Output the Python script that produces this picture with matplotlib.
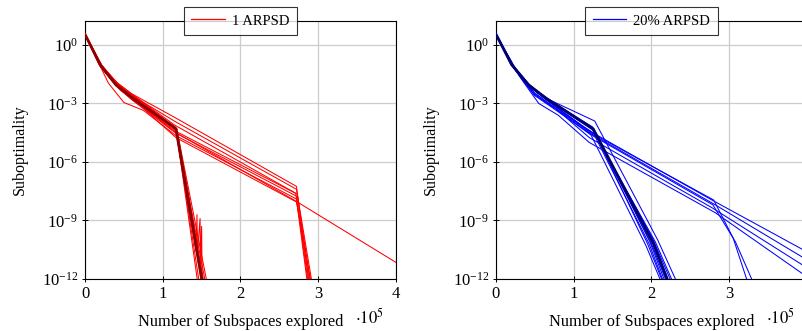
import numpy as np
import matplotlib.pyplot as plt
from matplotlib.lines import Line2D
from matplotlib.ticker import FixedLocator, LogFormatterMathtext

plt.rcParams['font.family'] = ['Liberation Serif', 'DejaVu Serif']
plt.rcParams['mathtext.fontset'] = 'stix'

# x in units of 1e5 subspaces, y given as log10(suboptimality)
# ---- left panel: 1 ARPSD ----
red_x = [
    [0, 0.2, 0.4, 0.6, 1.17, 1.47],
    [0, 0.2, 0.45, 0.65, 1.16, 1.50],
    [0, 0.25, 0.5, 0.7, 1.18, 1.53],
    [0, 0.2, 0.4, 0.62, 1.17, 1.45],
    [0, 0.22, 0.48, 0.7, 1.17, 1.55],
    [0, 0.2, 0.42, 0.6, 1.18, 1.57],
    [0, 0.18, 0.4, 0.63, 1.17, 1.43, 1.44, 1.445, 1.48, 1.485, 1.50, 1.505, 1.52],
    [0, 0.2, 0.4, 0.6, 1.17, 2.72, 2.88],
    [0, 0.22, 0.45, 0.65, 1.17, 2.72, 2.90],
    [0, 0.25, 0.5, 0.7, 1.15, 2.71, 2.86],
    [0, 0.2, 0.43, 0.62, 1.18, 2.73, 2.92],
    [0, 0.3, 0.5, 0.75, 1.17, 2.72, 2.89],
    [0, 0.18, 0.4, 0.6, 1.16, 2.72, 2.87],
    [0, 0.22, 0.45, 0.68, 1.17, 2.72, 2.91],
    [0, 0.2, 0.42, 0.6, 1.17, 2.71, 4.0],
]
red_logy = [
    [0.55, -1.0, -2.0, -2.7, -4.3, -12.2],
    [0.55, -1.1, -2.1, -2.8, -4.2, -12.2],
    [0.55, -1.3, -2.3, -2.9, -4.3, -12.2],
    [0.55, -1.0, -2.0, -2.6, -4.25, -12.2],
    [0.55, -1.15, -2.2, -2.9, -4.35, -12.2],
    [0.55, -1.0, -2.0, -2.7, -4.3, -12.2],
    [0.55, -0.9, -1.9, -2.6, -4.3, -10.6, -8.7, -10.7, -8.9, -11.2, -9.3, -11.6, -12.2],
    [0.55, -0.95, -1.9, -2.5, -3.75, -7.25, -12.2],
    [0.55, -1.1, -2.1, -2.7, -3.95, -7.4, -12.2],
    [0.55, -1.3, -2.3, -2.8, -4.1, -7.6, -12.2],
    [0.55, -1.1, -2.2, -2.85, -4.45, -7.65, -12.2],
    [0.55, -1.95, -2.95, -3.35, -4.65, -7.9, -12.2],
    [0.55, -1.0, -2.1, -2.8, -4.5, -7.75, -12.2],
    [0.55, -1.2, -2.3, -3.0, -4.75, -8.05, -12.2],
    [0.55, -1.05, -2.05, -2.7, -4.5, -8.0, -11.15],
]
red_dark_x = [0, 0.2, 0.4, 0.62, 1.17, 1.51]
red_dark_logy = [0.55, -1.05, -2.05, -2.75, -4.3, -12.2]

# ---- right panel: 20% ARPSD ----
blue_x = [
    [0, 0.2, 0.4, 0.65, 1.25, 1.95, 2.15],
    [0, 0.2, 0.42, 0.65, 1.24, 1.98, 2.18],
    [0, 0.22, 0.45, 0.7, 1.26, 2.0, 2.2],
    [0, 0.2, 0.4, 0.62, 1.25, 2.02, 2.23],
    [0, 0.25, 0.5, 0.72, 1.22, 1.93, 2.13],
    [0, 0.2, 0.4, 0.6, 1.27, 2.08, 2.33],
    [0, 0.2, 0.43, 0.66, 1.23, 2.05, 2.28],
    [0, 0.25, 0.48, 0.7, 1.25, 1.97, 2.16],
    [0, 0.2, 0.45, 0.68, 1.24, 2.04, 2.26],
    [0, 0.2, 0.42, 0.65, 1.2, 2.8, 3.95],
    [0, 0.22, 0.45, 0.68, 1.22, 2.8, 3.95],
    [0, 0.25, 0.5, 0.75, 1.2, 2.78, 3.95],
    [0, 0.3, 0.55, 0.8, 1.2, 2.82, 3.95],
    [0, 0.2, 0.42, 0.66, 1.22, 2.8, 3.05, 3.24],
    [0, 0.24, 0.48, 0.7, 1.22, 2.79, 3.08, 3.31],
]
blue_logy = [
    [0.55, -1.0, -2.0, -2.7, -4.3, -10.2, -12.2],
    [0.55, -1.0, -2.0, -2.75, -4.2, -10.1, -12.2],
    [0.55, -1.1, -2.2, -2.9, -4.4, -10.2, -12.2],
    [0.55, -1.0, -2.0, -2.7, -4.35, -10.0, -12.2],
    [0.55, -1.3, -2.6, -3.2, -4.6, -10.3, -12.2],
    [0.55, -1.0, -2.0, -2.65, -3.9, -10.0, -12.2],
    [0.55, -1.05, -2.1, -2.8, -4.25, -10.1, -12.2],
    [0.55, -1.3, -2.5, -3.1, -4.5, -10.2, -12.2],
    [0.55, -1.05, -2.15, -2.85, -4.3, -10.15, -12.2],
    [0.55, -1.0, -2.05, -2.8, -4.4, -8.0, -10.5],
    [0.55, -1.05, -2.15, -2.9, -4.55, -8.15, -10.9],
    [0.55, -1.2, -2.5, -3.2, -4.75, -8.35, -11.3],
    [0.55, -1.6, -3.0, -3.6, -5.0, -8.6, -11.75],
    [0.55, -1.0, -2.1, -2.85, -4.5, -7.95, -9.9, -12.2],
    [0.55, -1.2, -2.4, -3.05, -4.6, -8.2, -10.1, -12.2],
]
blue_dark_x = [0, 0.2, 0.42, 0.65, 1.25, 2.02, 2.22]
blue_dark_logy = [0.55, -1.0, -2.05, -2.75, -4.3, -10.15, -12.2]

xticks_left = [0, 1, 2, 3, 4]
xticks_right = [0, 1, 2, 3]
ydecades = [0, -3, -6, -9, -12]

fig = plt.figure(figsize=(8.03, 3.31), dpi=100)
ax1 = fig.add_axes([85 / 803, 52 / 331, 311 / 803, 258 / 331])
ax2 = fig.add_axes([496 / 803, 52 / 331, 311 / 803, 258 / 331])

panels = [
    (ax1, red_x, red_logy, red_dark_x, red_dark_logy, '#ff0000', '#8a0000', '1 ARPSD', xticks_left),
    (ax2, blue_x, blue_logy, blue_dark_x, blue_dark_logy, '#0000ff', '#00006e', '20% ARPSD', xticks_right),
]

for ax, xs, ys, dx, dy, col, dcol, lab, xt in panels:
    for x, y in zip(xs, ys):
        ax.plot(x, 10.0 ** np.array(y), color=col, lw=0.75, zorder=3)
    ax.plot(dx, 10.0 ** np.array(dy), color=dcol, lw=2.0, zorder=3.5,
            solid_capstyle='butt')
    ax.set_yscale('log')
    ax.set_xlim(0, 4)
    ax.set_ylim(1e-12, 10 ** 1.23)
    ax.xaxis.set_major_locator(FixedLocator(xt))
    ax.yaxis.set_major_locator(FixedLocator([10.0 ** d for d in ydecades]))
    ax.yaxis.set_minor_locator(FixedLocator([]))
    ax.yaxis.set_major_formatter(LogFormatterMathtext())
    ax.grid(True, color='#cccccc', lw=0.9, zorder=0)
    ax.tick_params(direction='inout', length=4, width=0.7, labelsize=12,
                   colors='black', pad=3)
    for s in ax.spines.values():
        s.set_linewidth(0.8)
    ax.set_ylabel('Suboptimality', fontsize=11.5, labelpad=10)
    ax.set_xlabel('Number of Subspaces explored', fontsize=11.8, labelpad=9)
    ax.text(0.916, -0.151, r'$\cdot 10^5$', transform=ax.transAxes, fontsize=12,
            ha='center', va='center')
    handle = Line2D([], [], color=col, lw=0.9)
    leg = ax.legend([handle], [lab], loc='center', bbox_to_anchor=(0.5, 1.0),
                    fontsize=10.5, frameon=True, fancybox=False,
                    edgecolor='black', handlelength=2.3, handletextpad=0.5,
                    borderpad=0.5, borderaxespad=0)
    leg.get_frame().set_linewidth(0.8)
    leg.set_zorder(10)

fig.savefig('out.png', dpi=100)
